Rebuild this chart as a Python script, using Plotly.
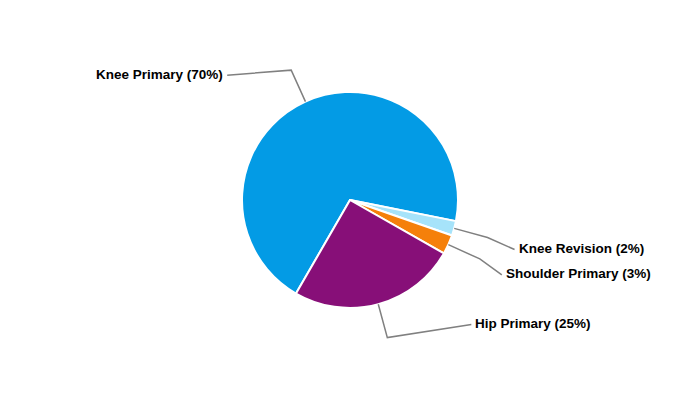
import math
import plotly.graph_objects as go

# data
names = ["Knee Primary", "Knee Revision", "Shoulder Primary", "Hip Primary"]
values = [69.8, 2.2, 2.9, 25.1]
colors = ["#039BE5", "#A6E3FA", "#F5800A", "#870F78"]

# label placement (pixel offsets from the leader-line elbow)
label_offsets = [(-64, 5), (27, 12), (22, 16), (84, -13)]

# the page body has an 8px margin, so the figure is drawn a bit smaller
OFF = 8
W, H = 700 - OFF, 400 - OFF
CX, CY, R = 350 - OFF, 200 - OFF, 108
ROTATION = 210  # degrees clockwise from 12 o'clock

total = sum(values)
labels = ["%s (%d%%)" % (n, round(v / total * 100)) for n, v in zip(names, values)]

fig = go.Figure(go.Pie(
    labels=names,
    values=values,
    sort=False,
    direction="clockwise",
    rotation=ROTATION,
    marker=dict(colors=colors, line=dict(color="white", width=2)),
    textinfo="none",
    hoverinfo="label+percent",
    domain=dict(x=[(CX - R) / W, (CX + R) / W], y=[1 - (CY + R) / H, 1 - (CY - R) / H]),
    showlegend=False,
))


def px(x, y):
    return x / W, 1 - y / H


shapes = []
annotations = []
start = ROTATION
for lab, v, (ox, oy) in zip(labels, values, label_offsets):
    span = v / total * 360
    mid = math.radians(start + span / 2)
    start += span
    sx, sy = CX + R * math.sin(mid), CY - R * math.cos(mid)
    ex, ey = CX + 1.32 * R * math.sin(mid), CY - 1.32 * R * math.cos(mid)
    lx, ly = ex + ox, ey + oy
    p = [px(sx, sy), px(ex, ey), px(lx, ly)]
    shapes.append(dict(
        type="path", xref="paper", yref="paper",
        path="M %f %f L %f %f L %f %f" % (p[0][0], p[0][1], p[1][0], p[1][1], p[2][0], p[2][1]),
        line=dict(color="#808080", width=1.5),
    ))
    right = ox > 0
    annotations.append(dict(
        x=p[2][0] + (2 if right else -2) / W, y=p[2][1] + 1 / H,
        xref="paper", yref="paper",
        text="<b>%s</b>" % lab, showarrow=False,
        xanchor="left" if right else "right", yanchor="middle",
        font=dict(family="Liberation Sans, Arial, sans-serif", size=13.5, color="#000000"),
    ))

fig.update_layout(
    width=W, height=H,
    margin=dict(l=0, r=0, t=0, b=0),
    paper_bgcolor="white",
    plot_bgcolor="white",
    shapes=shapes,
    annotations=annotations,
)

fig.write_html("out.html")
